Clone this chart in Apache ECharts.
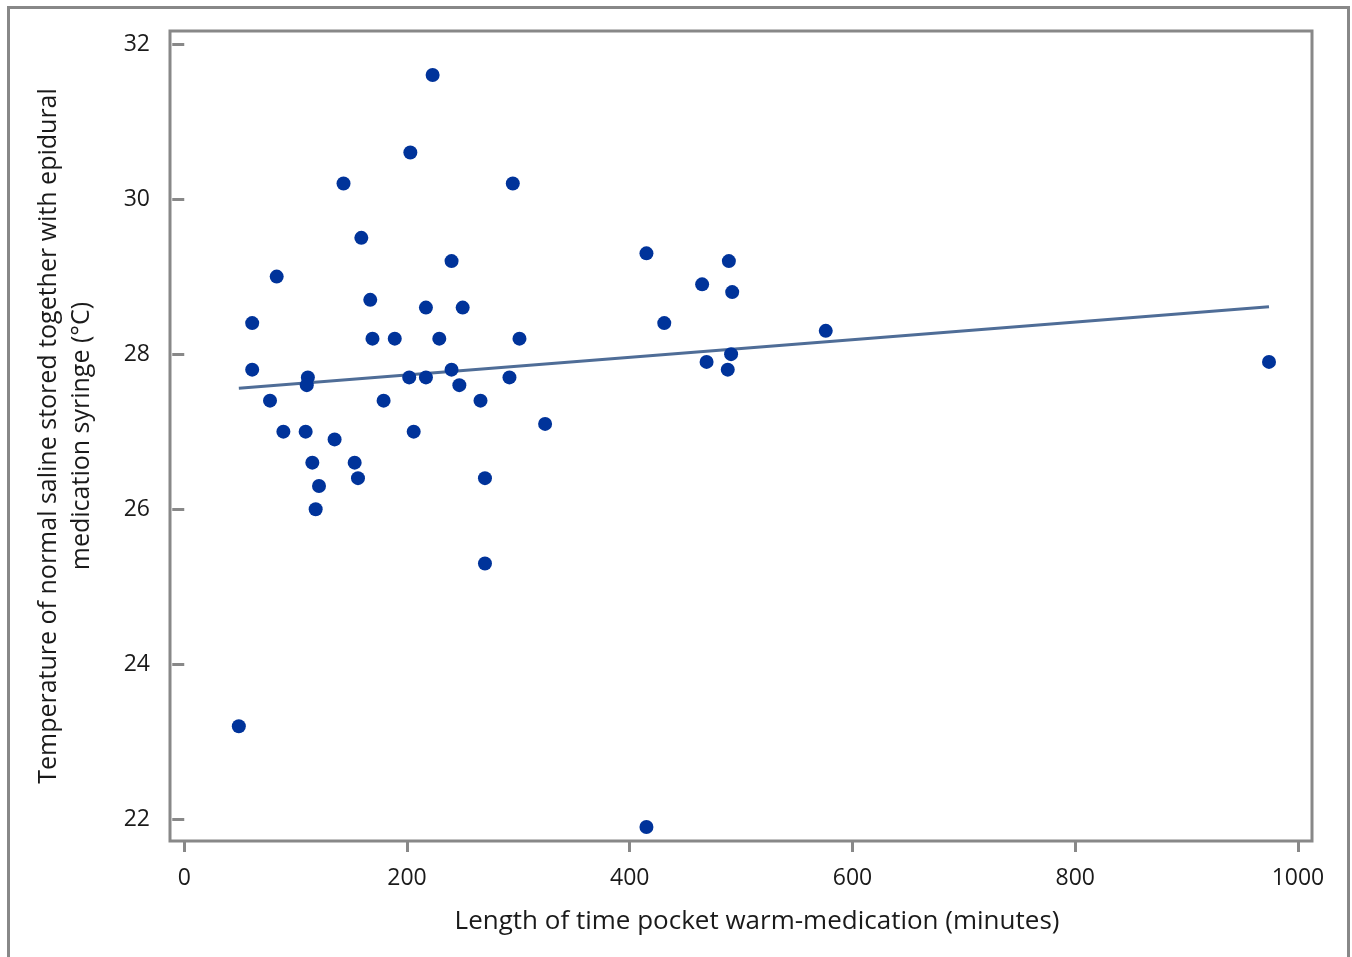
<!DOCTYPE html>
<html>
<head>
<meta charset="utf-8">
<script src="https://cdn.jsdelivr.net/npm/echarts@6/dist/echarts.min.js"></script>
<style>
    html, body {margin: 0; padding: 0; background: #fff;}
    #chart {width: 1352px; height: 957px;}
</style>
</head>
<body>
<div id="chart"></div>
<script>
    // minutes in pocket
    const minutes = [
        49, 61, 61, 77, 83, 89, 109, 111, 110, 115,
        118, 121, 135, 143, 153, 156, 159, 167, 169, 179,
        189, 202, 203, 206, 217, 217, 223, 229, 240, 240,
        247, 250, 266, 270, 270, 292, 295, 301, 324, 415,
        415, 431, 465, 469, 488, 489, 491, 492, 576, 974
    ];

    // temperature (C)
    const temps = [
        23.2, 28.4, 27.8, 27.4, 29.0, 27.0, 27.0, 27.7, 27.6, 26.6,
        26.0, 26.3, 26.9, 30.2, 26.6, 26.4, 29.5, 28.7, 28.2, 27.4,
        28.2, 27.7, 30.6, 27.0, 28.6, 27.7, 31.6, 28.2, 29.2, 27.8,
        27.6, 28.6, 27.4, 26.4, 25.3, 27.7, 30.2, 28.2, 27.1, 29.3,
        21.9, 28.4, 28.9, 27.9, 27.8, 29.2, 28.0, 28.8, 28.3, 27.9
    ];

    // regression line ends
    const fitX = [49, 974];
    const fitY = [27.56, 28.61];

    const xTicks = [0, 200, 400, 600, 800, 1000];
    const yTicks = [22, 24, 26, 28, 30, 32];

    const points = minutes.map((m, i) => [m, temps[i]]);
    const fitLine = fitX.map((x, i) => [x, fitY[i]]);

    const font = "'Open Sans', 'DejaVu Sans', sans-serif";
    const frameColor = '#888888';

    const myChart = echarts.init(document.getElementById('chart'));

    const option = {
        backgroundColor: '#fff',
        animation: false,
        graphic: [{
            type: 'rect',
            shape: {x: 8.5, y: 7.5, width: 1340, height: 1000},
            style: {fill: 'none', stroke: frameColor, lineWidth: 3},
            z: -1
        }],
        grid: {
            left: 170,
            top: 31,
            right: 40,
            bottom: 116,
            show: true,
            borderColor: frameColor,
            borderWidth: 3,
            backgroundColor: '#fff'
        },
        xAxis: {
            type: 'value',
            min: -12.8,
            max: 1012.6,
            splitLine: {show: false},
            axisLine: {show: false},
            axisTick: {
                show: true,
                length: 11,
                customValues: xTicks,
                lineStyle: {color: frameColor, width: 3}
            },
            axisLabel: {
                customValues: xTicks,
                formatter: v => String(v),
                margin: 26,
                color: '#1a1a1a',
                fontSize: 23,
                fontFamily: font
            },
            name: 'Length of time pocket warm-medication (minutes)',
            nameLocation: 'middle',
            nameGap: 68,
            nameTextStyle: {
                color: '#1a1a1a',
                fontSize: 26,
                fontFamily: font,
                padding: [0, 0, 0, 32]
            }
        },
        yAxis: {
            type: 'value',
            min: 21.72,
            max: 32.168,
            splitLine: {show: false},
            axisLine: {show: false},
            axisTick: {
                show: true,
                length: 12,
                customValues: yTicks,
                lineStyle: {color: frameColor, width: 3}
            },
            axisLabel: {
                customValues: yTicks,
                margin: 20,
                color: '#1a1a1a',
                fontSize: 23,
                fontFamily: font
            },
            name: 'Temperature of normal saline stored together with epidural\nmedication syringe (\u00b0C)',
            nameLocation: 'middle',
            nameRotate: 90,
            nameGap: 72,
            nameTextStyle: {
                color: '#1a1a1a',
                fontSize: 25,
                lineHeight: 33,
                align: 'center',
                fontFamily: font
            }
        },
        series: [
            {
                type: 'line',
                data: fitLine,
                symbol: 'none',
                lineStyle: {color: '#4f6d97', width: 3},
                z: 1
            },
            {
                type: 'scatter',
                data: points,
                symbol: 'circle',
                symbolSize: 14,
                itemStyle: {color: '#00339a', opacity: 1},
                z: 2
            }
        ]
    };

    myChart.setOption(option);
</script>
</body>
</html>
